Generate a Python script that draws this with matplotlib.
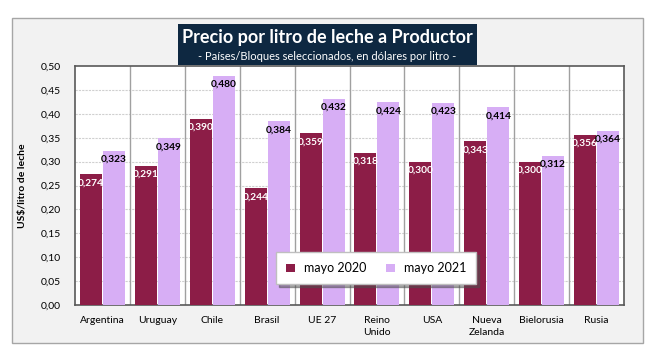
import numpy as np
import matplotlib
matplotlib.use("Agg")
import matplotlib.pyplot as plt
from matplotlib.patches import Rectangle

# ---------------- Data ----------------

countries = ["Argentina", "Uruguay", "Chile", "Brasil", "UE 27",
             "Reino\nUnido", "USA", "Nueva\nZelanda", "Bielorusia", "Rusia"]
may_2020 = [0.274, 0.291, 0.390, 0.244, 0.359, 0.318, 0.300, 0.343, 0.300, 0.356]
may_2021 = [0.323, 0.349, 0.480, 0.384, 0.432, 0.424, 0.423, 0.414, 0.312, 0.364]
y_ticks = [0.00, 0.05, 0.10, 0.15, 0.20, 0.25, 0.30, 0.35, 0.40, 0.45, 0.50]

c2020 = "#8c1d47"
c2021 = "#d7aef5"

plt.rcParams["font.family"] = ["Lato", "DejaVu Sans"]

fig = plt.figure(figsize=(6.58, 3.58), dpi=100)
fig.patch.set_facecolor("white")

# Outer gray frame
fig.patches.append(Rectangle((12 / 658, 1 - 343 / 358), 631 / 658, 325 / 358,
                             transform=fig.transFigure, facecolor="#f2f2f2",
                             edgecolor="#a6a6a6", linewidth=1, zorder=-1))

ax = fig.add_axes([75 / 658, 1 - 305 / 358, 549 / 658, 239 / 358])
ax.set_facecolor("white")

x = np.arange(len(countries))
w = 0.4

ax.bar(x - w / 2 - 0.01, may_2020, w, color=c2020, label="mayo 2020", zorder=3)
ax.bar(x + w / 2 + 0.01, may_2021, w, color=c2021, label="mayo 2021", zorder=3)

# ---------------- Value labels ----------------

for i in range(len(countries)):
    ax.text(x[i] - w / 2 - 0.01, may_2020[i] - 0.018,
            f"{may_2020[i]:.3f}".replace(".", ","),
            ha="center", va="center", color="white",
            fontsize=7.3, fontweight="bold", zorder=4)
    ax.text(x[i] + w / 2 + 0.01, may_2021[i] - 0.018,
            f"{may_2021[i]:.3f}".replace(".", ","),
            ha="center", va="center", color="black",
            fontsize=7.3, fontweight="bold", zorder=4)

# ---------------- Axes ----------------

ax.set_xlim(-0.5, len(countries) - 0.5)
ax.set_ylim(0, 0.5)
ax.set_yticks(y_ticks)
ax.set_yticklabels([f"{v:.2f}".replace(".", ",") for v in y_ticks], fontsize=7.5)
ax.set_xticks(x)
ax.set_xticklabels(countries, fontsize=7.5, linespacing=1.4)
ax.tick_params(length=0, pad=8)
ax.tick_params(axis="y", pad=10)

for yv in y_ticks[1:-1]:
    ax.axhline(yv, color="#d0d0d0", linewidth=0.8, linestyle=(0, (2, 1)), zorder=1)
for xv in np.arange(0.5, len(countries) - 0.5, 1):
    ax.axvline(xv, color="#a0a0a0", linewidth=1, zorder=1)

for s in ax.spines.values():
    s.set_color("#595959")
    s.set_linewidth(1.2)

ax.set_ylabel("US$/litro de leche", fontsize=7.5, fontweight="bold", labelpad=10)

# ---------------- Legend ----------------

leg = ax.legend(loc="lower left", bbox_to_anchor=(0.355, 0.06), ncol=2,
                fontsize=9, frameon=True, fancybox=False, shadow=True,
                handlelength=0.7, handleheight=0.7, handletextpad=0.7,
                columnspacing=1.6, borderpad=0.8, edgecolor="#bfbfbf")
leg.set_zorder(5)

# ---------------- Title box ----------------

fig.patches.append(Rectangle((178 / 658, 1 - 65 / 358), 299 / 658, 41 / 358,
                             transform=fig.transFigure, facecolor="#0e2841",
                             edgecolor="none", zorder=10))
fig.text(327 / 658, 1 - 38 / 358, "Precio por litro de leche a Productor",
         ha="center", va="center", color="white", fontsize=13,
         fontweight="bold", zorder=11)
fig.text(327 / 658, 1 - 57 / 358,
         "- Países/Bloques seleccionados, en dólares por litro -",
         ha="center", va="center", color="white", fontsize=8, zorder=11)

fig.savefig("out.png", dpi=100)
